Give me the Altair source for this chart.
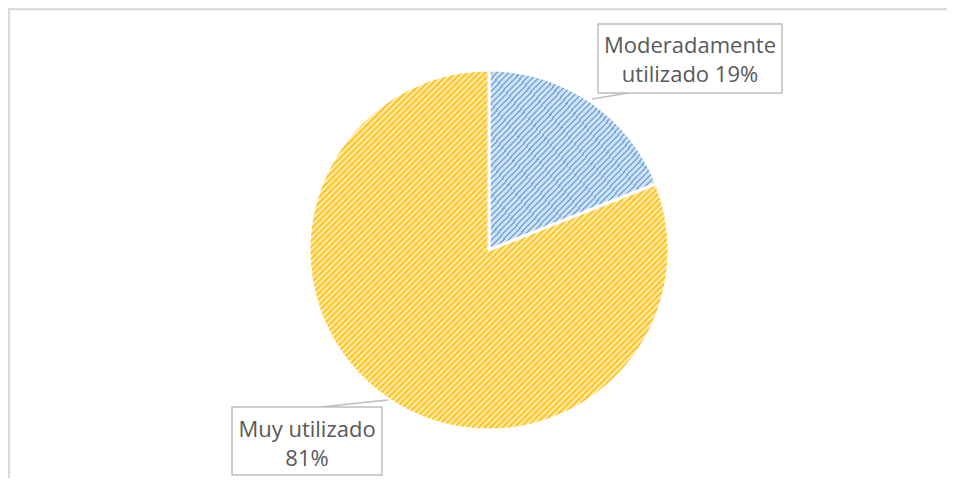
import altair as alt
import pandas as pd

# ---- data ----
categories = ["Moderadamente utilizado", "Muy utilizado"]
values = [19, 81]
label_lines = [["Moderadamente", "utilizado 19%"], ["Muy utilizado", "81%"]]

# ---- layout / style (chart pixel coordinates) ----
W, H = 939, 470
CX, CY, R = 481, 242, 180
box_pos = [  # x, x2, y, y2
    (590, 774, 16, 85),
    (224, 374, 399, 467),
]
text_pos = [(682, 45), (299, 429)]
leader_pos = [  # x, y, x2, y2
    (620, 85, 584, 91),
    (312, 399, 380, 392),
]
light = ["#CFE1F4", "#FFEAAA"]
dark = ["#78A9DC", "#FFC72A"]
periods = [58, 120]
FONT = "Open Sans"
TEXT_COLOR = "#595959"


def stripes(c_light, c_dark, n, frac=0.35):
    stops = []
    for i in range(n):
        a = i / n
        b = (i + 1 - frac) / n
        c = (i + 1) / n
        stops += [
            alt.GradientStop(color=c_light, offset=a),
            alt.GradientStop(color=c_light, offset=b),
            alt.GradientStop(color=c_dark, offset=b),
            alt.GradientStop(color=c_dark, offset=c),
        ]
    return alt.Gradient(gradient="linear", stops=stops, x1=0, y1=0, x2=1, y2=1)


pie_df = pd.DataFrame({"category": categories, "value": values, "order": list(range(len(values)))})

base = alt.Chart(pie_df).transform_window(
    v1="sum(value)", sort=[alt.SortField("order")], frame=[None, 0]
).transform_calculate(v0="datum.v1 - datum.value")

total = sum(values)
layers = []
for i, cat in enumerate(categories):
    layers.append(
        base.transform_filter(alt.datum.category == cat)
        .mark_arc(
            radius=R,
            fill=stripes(light[i], dark[i], periods[i]),
            stroke="white",
            strokeWidth=3,
        )
        .encode(
            theta=alt.Theta("v0:Q", scale=alt.Scale(domain=[0, total])),
            theta2="v1:Q",
            x=alt.value(CX),
            y=alt.value(CY),
        )
    )

lead_df = pd.DataFrame(
    {
        "category": categories,
        "x": [p[0] for p in leader_pos],
        "y": [p[1] for p in leader_pos],
        "x2": [p[2] for p in leader_pos],
        "y2": [p[3] for p in leader_pos],
    }
)
leaders = alt.Chart(lead_df).mark_rule(color="#BFBFBF", strokeWidth=1.5).encode(
    x=alt.X("x:Q", scale=None), y=alt.Y("y:Q", scale=None),
    x2="x2:Q", y2="y2:Q",
)

box_df = pd.DataFrame(
    {
        "category": categories,
        "x": [b[0] for b in box_pos],
        "x2": [b[1] for b in box_pos],
        "y": [b[2] for b in box_pos],
        "y2": [b[3] for b in box_pos],
    }
)
boxes = alt.Chart(box_df).mark_rect(fill="white", stroke="#BFBFBF", strokeWidth=1.5).encode(
    x=alt.X("x:Q", scale=None), x2="x2:Q",
    y=alt.Y("y:Q", scale=None), y2="y2:Q",
)

txt_df = pd.DataFrame(
    {
        "category": categories,
        "label": ["\n".join(l) for l in label_lines],
        "x": [t[0] for t in text_pos],
        "y": [t[1] for t in text_pos],
    }
)
texts = alt.Chart(txt_df).mark_text(
    font=FONT, fontSize=22, color=TEXT_COLOR, align="center", baseline="alphabetic",
    lineBreak="\n", lineHeight=29,
).encode(
    x=alt.X("x:Q", scale=None), y=alt.Y("y:Q", scale=None), text="label:N"
)

frame_df = pd.DataFrame({"x": [1.5], "x2": [W + 40], "y": [1.5], "y2": [H + 40]})
frame = alt.Chart(frame_df).mark_rect(
    fill="transparent", stroke="#D9D9D9", strokeWidth=1.5
).encode(
    x=alt.X("x:Q", scale=None), x2="x2:Q",
    y=alt.Y("y:Q", scale=None), y2="y2:Q",
)

chart = alt.layer(
    frame, *layers, leaders, boxes, texts
).properties(
    width=W, height=H, padding=0, autosize=alt.AutoSizeParams(type="none")
).configure_view(strokeWidth=0, strokeOpacity=0).configure(background="white")

chart.save("out.html", embed_options={"renderer": "svg", "actions": False})
